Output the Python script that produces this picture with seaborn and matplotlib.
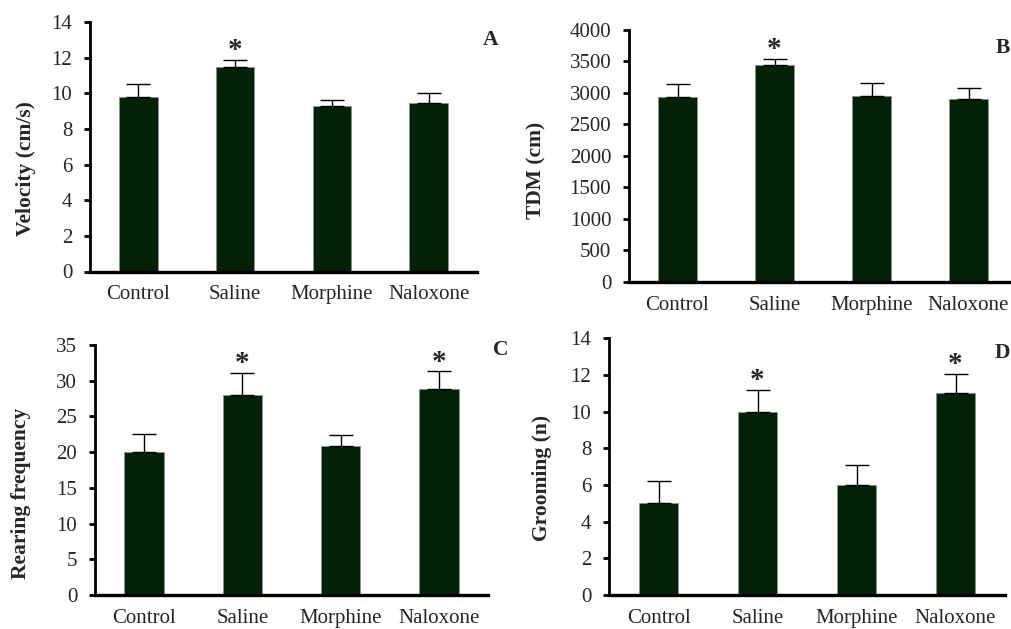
import matplotlib
matplotlib.use("Agg")
import matplotlib.pyplot as plt
import seaborn as sns
import pandas as pd
import numpy as np

groups = ["Control", "Saline", "Morphine", "Naloxone"]

velocity_mean = [9.8, 11.45, 9.3, 9.45]
velocity_sem = [0.7, 0.4, 0.35, 0.55]
velocity_sig = [False, True, False, False]

tdm_mean = [2940, 3440, 2950, 2900]
tdm_sem = [200, 105, 200, 185]
tdm_sig = [False, True, False, False]

rearing_mean = [20.0, 28.0, 20.9, 28.9]
rearing_sem = [2.6, 3.05, 1.5, 2.4]
rearing_sig = [False, True, False, True]

grooming_mean = [5.0, 10.0, 6.0, 11.0]
grooming_sem = [1.22, 1.2, 1.1, 1.05]
grooming_sig = [False, True, False, True]

sns.set_theme(style="white")
plt.rcParams["font.family"] = ["Liberation Serif", "DejaVu Serif"]

W, H = 1011, 629
fig = plt.figure(figsize=(W / 100, H / 100), dpi=100)

BAR = "#032106"


def px_axes(left, right, top, bottom):
    return fig.add_axes([left / W, 1 - bottom / H, (right - left) / W, (bottom - top) / H])


def panel(ax, means, sems, sig, ymax, ystep, ylabel, ylab_xy, letter, letter_xy):
    df = pd.DataFrame({"group": groups, "value": means})
    sns.barplot(data=df, x="group", y="value", color=BAR, saturation=1, width=0.4,
                errorbar=None, edgecolor="#8a958a", linewidth=0.6, ax=ax)
    xs = np.arange(len(groups))
    ax.errorbar(xs, means, yerr=[np.zeros(len(means)), sems], fmt="none",
                ecolor="black", elinewidth=1.0, capsize=8.5, capthick=1.0, zorder=5)
    for x, m, s, flag in zip(xs, means, sems, sig):
        if flag:
            ax.annotate("*", xy=(x, m + s), xytext=(0, -3), textcoords="offset points",
                        ha="center", va="bottom", fontsize=21, fontweight="bold")
    ax.set_xlim(-0.5, 3.5)
    ax.set_ylim(0, ymax)
    ticks = np.arange(0, ymax + ystep / 2, ystep)
    ax.set_yticks(ticks)
    ax.set_yticklabels([f"{int(v)}" for v in ticks])
    ax.set_xlabel("")
    ax.set_ylabel("")
    for s in ["top", "right"]:
        ax.spines[s].set_visible(False)
    ax.spines["left"].set_linewidth(2.0)
    ax.spines["bottom"].set_linewidth(2.4)
    ax.spines["left"].set_color("black")
    ax.spines["bottom"].set_color("black")
    ax.tick_params(axis="y", left=True, length=4.3, width=2.0, pad=8.5, labelsize=15,
                   direction="out", color="black")
    ax.tick_params(axis="x", bottom=False, length=0, pad=10, labelsize=15)
    ax.patch.set_alpha(0)
    fig.text(ylab_xy[0] / W, 1 - ylab_xy[1] / H, ylabel, rotation=90, ha="center",
             va="center", fontsize=15.5, fontweight="bold")
    fig.text(letter_xy[0] / W, 1 - letter_xy[1] / H, letter, ha="left", va="center",
             fontsize=15.5, fontweight="bold")


axA = px_axes(90, 477, 22, 271.5)
panel(axA, velocity_mean, velocity_sem, velocity_sig, 14, 2, "Velocity (cm/s)",
      (26, 169), "A", (483, 40))

axB = px_axes(629, 1017, 30, 281.7)
panel(axB, tdm_mean, tdm_sem, tdm_sig, 4000, 500, "TDM (cm)",
      (536, 170), "B", (996, 48))

axC = px_axes(95, 488, 345, 595)
panel(axC, rearing_mean, rearing_sem, rearing_sig, 35, 5, "Rearing frequency",
      (21, 493), "C", (493, 350))

axD = px_axes(609, 1005, 338.3, 595)
panel(axD, grooming_mean, grooming_sem, grooming_sig, 14, 2, "Grooming (n)",
      (542, 478), "D", (995, 353))

fig.savefig("out.png", dpi=100, facecolor="white")
